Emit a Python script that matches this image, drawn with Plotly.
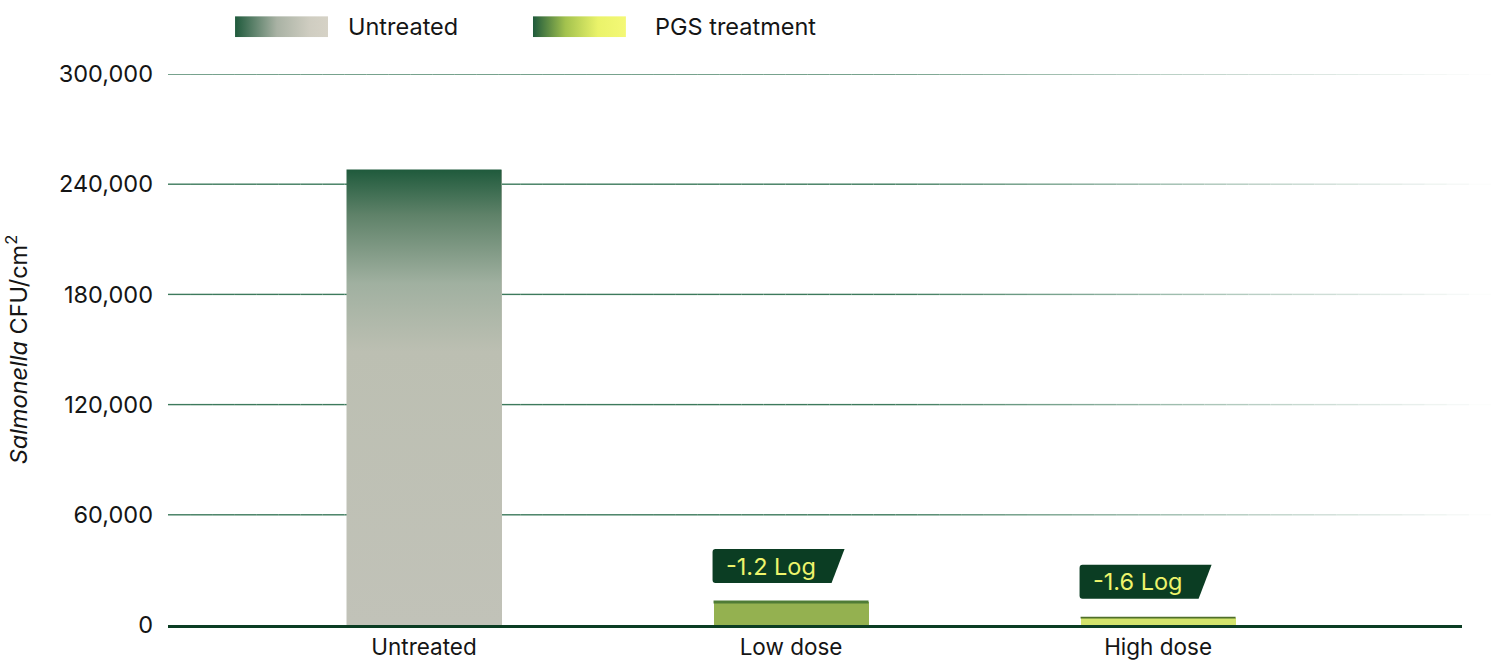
import base64
import plotly.graph_objects as go

# ---- data ----
categories = ["Untreated", "Low dose", "High dose"]
cfu_values = [248000, 12500, 4000]
log_labels = [None, "-1.2 Log", "-1.6 Log"]
y_ticks = [0, 60000, 120000, 180000, 240000, 300000]
legend_names = ["Untreated", "PGS treatment"]

# ---- styling ----
FONT = "Inter"
FS = 23.5
DARK = "#0b3d23"
LABEL_TXT = "#eef46c"
TXT = "#151515"
bar_width = 0.4223
x_pos = list(range(len(categories)))
bar_solid = ["#c0c1b6", "#94b150", "#d3e46c"]
edge_colors = [None, "#4f7c36", "#4f6f2a"]
edge_widths = [0, 3, 1.6]
untreated_scale = [[0, "#c1c2b8"], [0.6, "#bcbfb2"], [0.75, "#a0b0a0"],
                   [0.9, "#5f8269"], [1, "#1f5a3c"]]

fig = go.Figure()

fig.add_trace(go.Bar(
    x=x_pos, y=cfu_values, width=bar_width,
    marker=dict(color=bar_solid, line=dict(width=0)),
    hovertext=categories, showlegend=False,
))

# vertical gradient over the tallest (untreated) bar
xc, v = x_pos[0], cfu_values[0]
x0, x1 = xc - bar_width / 2, xc + bar_width / 2
fig.add_trace(go.Scatter(
    x=[x0, x1, x1, x0, x0], y=[0, 0, v, v, 0],
    mode="lines", fill="toself", line=dict(width=0),
    fillgradient=dict(type="vertical", colorscale=untreated_scale, start=0, stop=v),
    hoverinfo="skip", showlegend=False,
))
# dark top edges of the treated bars
for xc, v, ec, ew in zip(x_pos, cfu_values, edge_colors, edge_widths):
    if not ec:
        continue
    fig.add_trace(go.Scatter(
        x=[xc - bar_width / 2, xc + bar_width / 2], y=[v, v], mode="lines",
        line=dict(color=ec, width=ew), hoverinfo="skip", showlegend=False,
    ))

shapes = []
# fading gridlines
N = 60
x_end = 1.0224
def mix(c1, c2, t):
    a = [int(c1[i:i + 2], 16) for i in (1, 3, 5)]
    b = [int(c2[i:i + 2], 16) for i in (1, 3, 5)]
    return "#%02x%02x%02x" % tuple(round(a[k] + (b[k] - a[k]) * t) for k in range(3))
for yv in y_ticks[1:]:
    for i in range(N):
        tm = (i + 0.5) / N
        s = max(0.0, (tm - 0.55) / 0.45)
        col = mix("#3d7a5c", "#ffffff", min(1.0, s ** 0.9))
        shapes.append(dict(type="line", xref="paper", yref="y",
                           x0=i / N * x_end, x1=(i + 1) / N * x_end, y0=yv, y1=yv,
                           line=dict(color=col, width=1.4), layer="below"))

annotations = []
for xc, v, lab in zip(x_pos, cfu_values, log_labels):
    if not lab:
        continue
    left = xc - bar_width / 2
    shapes.append(dict(
        type="path", xref="x", yref="y", xsizemode="pixel", ysizemode="pixel",
        xanchor=left, yanchor=v,
        path="M -1,22 Q -1,19 2,19 L 118,19 L 131,53 L 2,53 Q -1,53 -1,50 Z",
        fillcolor=DARK, line=dict(width=0), layer="above"))
    annotations.append(dict(
        x=left, y=v, xref="x", yref="y", text=lab, showarrow=False,
        xanchor="left", yanchor="middle", xshift=10, yshift=36,
        font=dict(family=FONT, size=FS, color=LABEL_TXT)))

# legend
def grad_svg(stops):
    st = "".join(f'<stop offset="{o}" stop-color="{c}"/>' for o, c in stops)
    svg = ('<svg xmlns="http://www.w3.org/2000/svg" width="93" height="21" viewBox="0 0 93 21" '
           'preserveAspectRatio="none"><defs><linearGradient id="g" x1="0" x2="1" y1="0" y2="0">'
           f'{st}</linearGradient></defs><rect width="93" height="21" fill="url(#g)"/></svg>')
    return "data:image/svg+xml;base64," + base64.b64encode(svg.encode()).decode()

legend_stops = [
    [(0, "#1f5a3c"), (0.45, "#a9b2a4"), (0.8, "#cfcdc1"), (1, "#d6d2c6")],
    [(0, "#1f5a3c"), (0.35, "#a3c24e"), (0.7, "#eaf36a"), (1, "#f4f876")],
]
swatch_x = [0.0518, 0.282]
text_x = [0.1376, 0.3745]
images = []
for sx, tx, name, stops in zip(swatch_x, text_x, legend_names, legend_stops):
    images.append(dict(source=grad_svg(stops), xref="paper", yref="paper",
                       x=sx, y=1.105, sizex=0.0719, sizey=0.0381,
                       sizing="stretch", xanchor="left", yanchor="top", layer="above"))
    annotations.append(dict(x=tx, y=1.086, xref="paper", yref="paper", text=name,
                            showarrow=False, xanchor="left", yanchor="middle",
                            font=dict(family=FONT, size=FS, color=TXT)))

fig.update_layout(
    width=1491, height=660,
    margin=dict(l=168, r=29, t=74, b=35),
    paper_bgcolor="white", plot_bgcolor="white",
    font=dict(family=FONT, size=FS, color=TXT),
    showlegend=False,
    shapes=shapes, annotations=annotations, images=images,
    bargap=0,
)
fig.update_xaxes(
    range=[-0.6975, 2.828], tickvals=x_pos, ticktext=categories, automargin=False,
    showgrid=False, zeroline=False, showline=True, linecolor=DARK, linewidth=3,
    tickfont=dict(family=FONT, size=22.5, color=TXT), ticklabelstandoff=0,
)
fig.update_yaxes(
    range=[0, 300000], tickvals=y_ticks, tickformat=",", showgrid=False, zeroline=False,
    automargin=False,
    tickfont=dict(family=FONT, size=FS, color=TXT), ticklabelstandoff=14,
    title=dict(text="<i>Salmonella</i> CFU/cm<sup>2</sup>", standoff=24,
               font=dict(family=FONT, size=FS, color=TXT)),
)

fig.write_html("out.html", config={"displayModeBar": False},
               post_script="document.body.style.margin='0px';")
